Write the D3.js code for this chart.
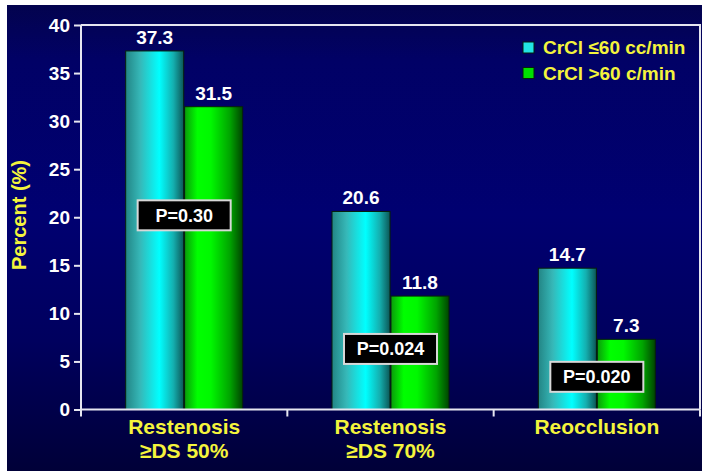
<!DOCTYPE html>
<html>
<head>
<meta charset="utf-8">
<script src="https://cdn.jsdelivr.net/npm/d3@7"></script>
<style>
  html, body { margin: 0; padding: 0; background: #ffffff; }
  svg { display: block; }
  text { font-family: "Liberation Sans", Arial, Helvetica, sans-serif; font-weight: bold; }
</style>
</head>
<body>
<svg id="chart" width="702" height="471"></svg>
<script>
// ---- data ----
const categories = ["Restenosis\n≥DS 50%", "Restenosis\n≥DS 70%", "Reocclusion"];
const seriesNames = ["CrCl ≤60 cc/min", "CrCl >60 c/min"];
const lowCrCl = [37.3, 20.6, 14.7];
const highCrCl = [31.5, 11.8, 7.3];
const pLabels = ["P=0.30", "P=0.024", "P=0.020"];
const yTicks = [0, 5, 10, 15, 20, 25, 30, 35, 40];
const yTitle = "Percent (%)";

// ---- layout ----
const W = 702, H = 471;
const plot = { left: 81, right: 700, top: 25, bottom: 409.5 };
const pBoxLevel = [20.2, 6.3, 3.4];   // vertical placement of P boxes, in axis units

const svg = d3.select("#chart");
const defs = svg.append("defs");

// slide background
const bg = defs.append("linearGradient").attr("id", "bg")
  .attr("x1", 0).attr("y1", 0).attr("x2", 0).attr("y2", 1);
[[0, "#03034e"], [0.12, "#010166"], [0.45, "#000071"], [0.72, "#00005e"], [1, "#000038"]]
  .forEach(([o, c]) => bg.append("stop").attr("offset", o).attr("stop-color", c));
svg.append("rect").attr("x", 7).attr("y", 5).attr("width", W - 7).attr("height", H - 5)
  .attr("fill", "url(#bg)");

// cylinder shading for the bars
const shades = [
  [[0, "#238585"], [0.25, "#36b8b8"], [0.58, "#00ffff"], [0.82, "#14b0b0"], [1, "#0c5656"]],
  [[0, "#0a9a0a"], [0.22, "#00ff00"], [0.45, "#00f800"], [0.78, "#00a400"], [1, "#004400"]]
];
shades.forEach((stops, i) => {
  const g = defs.append("linearGradient").attr("id", "bar" + i)
    .attr("x1", 0).attr("y1", 0).attr("x2", 1).attr("y2", 0);
  stops.forEach(([o, c]) => g.append("stop").attr("offset", o).attr("stop-color", c));
});

// ---- scales ----
const x = d3.scaleBand().domain(categories)
  .range([plot.left, plot.right]).paddingInner(0.433).paddingOuter(0.2165);
const xs = d3.scaleBand().domain(d3.range(seriesNames.length))
  .range([0, x.bandwidth()]).paddingInner(0.015);
const y = d3.scaleLinear().domain([0, 40]).range([plot.bottom, plot.top]);

const series = [lowCrCl, highCrCl];
const rows = categories.map((c, i) => ({ cat: c, values: series.map(s => s[i]) }));

// ---- bars ----
const groups = svg.append("g").selectAll("g").data(rows).join("g")
  .attr("transform", d => `translate(${x(d.cat)},0)`);

groups.selectAll("rect").data(d => d.values.map((v, k) => ({ v, k }))).join("rect")
  .attr("x", d => xs(d.k))
  .attr("y", d => y(d.v))
  .attr("width", xs.bandwidth())
  .attr("height", d => y(0) - y(d.v))
  .attr("fill", d => `url(#bar${d.k})`)
  .attr("stroke", "#06200c")
  .attr("stroke-width", 1);

groups.selectAll("text.val").data(d => d.values.map((v, k) => ({ v, k }))).join("text")
  .attr("class", "val")
  .attr("x", d => xs(d.k) + xs.bandwidth() / 2)
  .attr("y", d => y(d.v) - 7)
  .attr("text-anchor", "middle")
  .attr("fill", "#ffffff")
  .attr("font-size", 19)
  .text(d => d.v.toFixed(1));

// ---- frame and axes ----
const frameColor = "#e6e6f0";
svg.append("path")
  .attr("d", `M${plot.left},${plot.top}H${plot.right}V${plot.bottom}`)
  .attr("fill", "none").attr("stroke", frameColor).attr("stroke-width", 2);

const yAxis = svg.append("g").attr("transform", `translate(${plot.left},0)`)
  .call(d3.axisLeft(y).tickValues(yTicks).tickSize(7).tickPadding(4));
yAxis.select(".domain").remove();
yAxis.append("line").attr("x1", 0).attr("x2", 0)
  .attr("y1", plot.top).attr("y2", plot.bottom + 7);
yAxis.selectAll("line").attr("stroke", frameColor).attr("stroke-width", 2);
yAxis.selectAll("text").attr("fill", "#ffffff").attr("font-size", 19)
  .attr("font-family", "Liberation Sans, Arial, sans-serif").attr("font-weight", "bold");

// baseline with category dividers
const bounds = categories.map(c => x(c) - x.step() * x.paddingOuter()).concat([plot.right]);
const xAxis = svg.append("g");
xAxis.append("line").attr("x1", plot.left).attr("x2", plot.right)
  .attr("y1", plot.bottom).attr("y2", plot.bottom)
  .attr("stroke", frameColor).attr("stroke-width", 2);
xAxis.selectAll("line.div").data(bounds.slice(1)).join("line").attr("class", "div")
  .attr("x1", d => d).attr("x2", d => d)
  .attr("y1", plot.bottom).attr("y2", plot.bottom + 7)
  .attr("stroke", frameColor).attr("stroke-width", 2);

// category labels
const catLabels = svg.append("g").selectAll("text").data(categories).join("text")
  .attr("x", d => x(d) + x.bandwidth() / 2)
  .attr("y", 434)
  .attr("text-anchor", "middle")
  .attr("fill", "#f4f43c")
  .attr("font-size", 21);
catLabels.selectAll("tspan").data(d => d.split("\n")).join("tspan")
  .attr("x", function () { return d3.select(this.parentNode).attr("x"); })
  .attr("dy", (d, i) => i === 0 ? 0 : 24)
  .text(d => d);

// y title
svg.append("text")
  .attr("transform", "translate(26,215) rotate(-90)")
  .attr("text-anchor", "middle")
  .attr("fill", "#f4f43c")
  .attr("font-size", 20)
  .text(yTitle);

// ---- P value boxes ----
const pBoxes = svg.append("g").selectAll("g").data(categories).join("g")
  .attr("transform", (d, i) => `translate(${x(d) + x.bandwidth() / 2},${y(pBoxLevel[i])})`);
pBoxes.append("rect")
  .attr("x", -46.5).attr("y", -15).attr("width", 93).attr("height", 30)
  .attr("fill", "#000000").attr("stroke", "#d8d8d8").attr("stroke-width", 2);
pBoxes.append("text")
  .attr("x", 0).attr("y", 6.5)
  .attr("text-anchor", "middle")
  .attr("fill", "#ffffff")
  .attr("font-size", 18)
  .text((d, i) => pLabels[i]);

// ---- legend ----
const swatch = ["#22e4e4", "#00e000"];
const legend = svg.append("g").selectAll("g").data(seriesNames).join("g")
  .attr("transform", (d, i) => `translate(523,${42 + i * 25.5})`);
legend.append("rect").attr("width", 11).attr("height", 11)
  .attr("fill", (d, i) => swatch[i]).attr("stroke", "#06200c").attr("stroke-width", 1);
legend.append("text").attr("x", 20).attr("y", 12)
  .attr("fill", "#f4f43c").attr("font-size", 19)
  .text(d => d);
</script>
</body>
</html>
